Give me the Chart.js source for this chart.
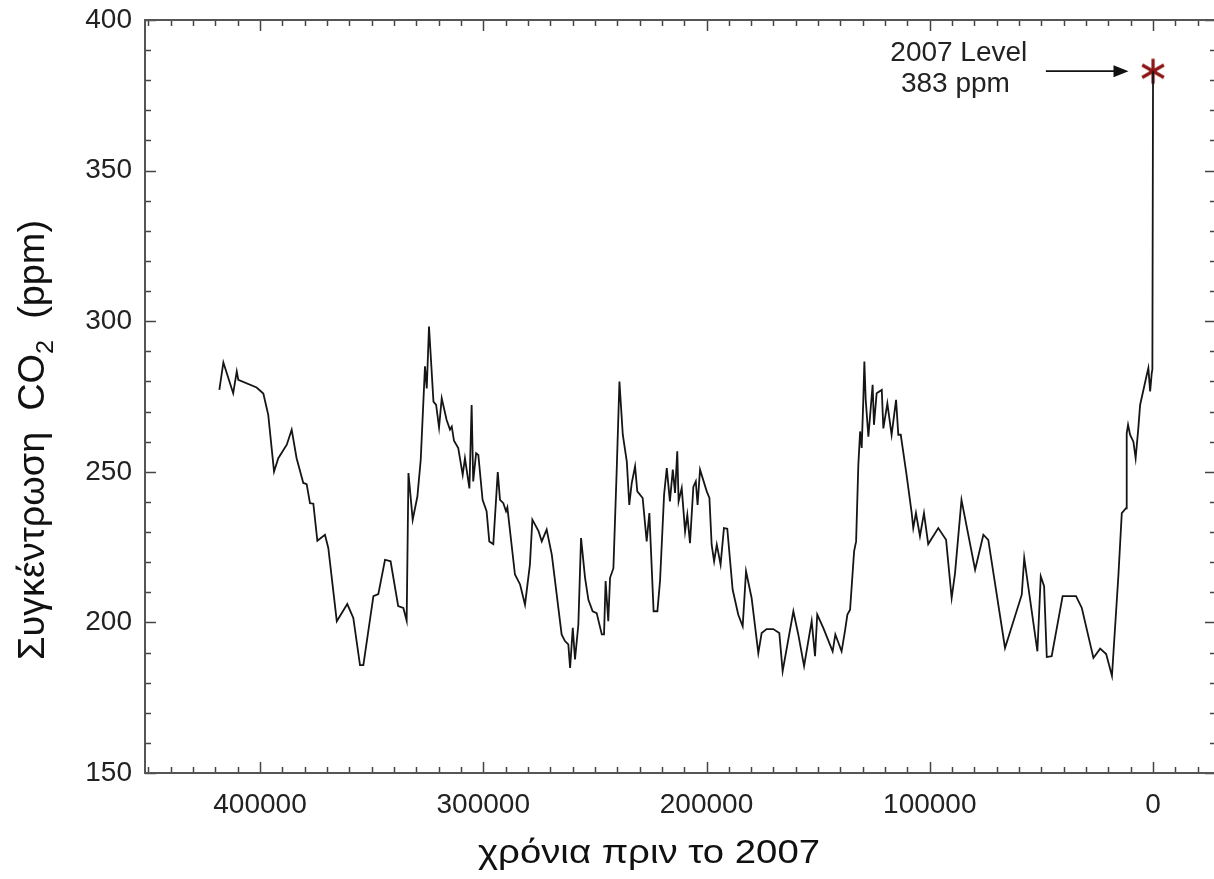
<!DOCTYPE html>
<html>
<head>
<meta charset="utf-8">
<title>CO2 Vostok</title>
<script src="https://cdn.jsdelivr.net/npm/chart.js@4.4.1/dist/chart.umd.min.js"></script>
<style>
  html, body { margin: 0; padding: 0; background: #fff; }
  canvas { display: block; }
</style>
</head>
<body>
<canvas id="grafico" width="1214" height="879"></canvas>
<script>
// years before 2007
const anios = [
  418200, 416400, 412000, 410400, 409700, 401500, 398500, 396300, 393700, 391800,
  388000, 385800, 383600, 380600, 379100, 377600, 376100, 374300, 370900, 369400,
  365600, 360900, 358200, 355200, 353700, 349200, 347000, 344000, 341500, 338100,
  335800, 334300, 333500, 331600, 329500, 328000, 326100, 325300, 324300, 323500,
  322300, 321100, 319800, 318600, 316400, 314900, 314100, 313100, 311200, 309200,
  308200, 306200, 305200, 304500, 303200, 302200, 300300, 298500, 297300, 295500,
  293500, 292500, 291000, 289800, 289200, 285800, 283500, 281300, 279100, 278000,
  275300, 273800, 271600, 269300, 264900, 263400, 261900, 261100, 259900, 258900,
  257400, 256200, 254400, 252900, 251000, 249200, 246900, 245900, 245200, 244000,
  243200, 241700, 240200, 239000, 237500, 235700, 234600, 233500, 232000, 231000,
  228600, 226800, 225600, 223700, 222000, 220800, 219000, 217800, 216400, 215100,
  214100, 213100, 212500, 211100, 209600, 208600, 207400, 205900, 204800, 204000,
  202900, 199900, 198700, 197700, 196600, 195400, 193700, 192200, 190700, 188300,
  185800, 183800, 182300, 179800, 176800, 175300, 173100, 170100, 167400, 165900,
  161100, 158900, 156300, 152900, 151400, 150400, 147700, 143500, 142300, 139500,
  138000, 136900, 135700, 133900, 133000, 132000, 131200, 130500, 129800, 129300,
  128700, 127500, 125600, 125000, 123800, 121500, 120800, 119000, 117100, 115100,
  114100, 113000, 110400, 108100, 107400, 106200, 104400, 102600, 100700, 96200,
  92700, 90200, 88700, 85800, 79700, 76000, 73800, 66300, 58800, 57700,
  51800, 50300, 48800, 47600, 45400, 40500, 34500, 31900, 26700, 23700,
  21000, 18400, 15500, 14000, 12100, 11800, 11200, 10300, 8800, 7800,
  6600, 5800, 2800, 2100, 1300, 600, 300, 0
];

// CO2 ppm
const co2 = [
  277.2, 286.3, 276.1, 283.3, 280.5, 278.0, 276.0, 268.9, 250.1, 254.5,
  259.0, 264.0, 254.5, 246.3, 245.9, 239.6, 239.4, 227.1, 229.1, 224.7,
  200.4, 206.1, 201.5, 185.8, 185.8, 208.7, 209.4, 220.8, 220.3, 205.4,
  204.8, 200.6, 249.6, 234.1, 241.8, 254.0, 285.0, 277.7, 298.2, 288.3,
  273.3, 272.2, 264.7, 274.4, 267.2, 264.0, 265.0, 260.3, 257.9, 249.0,
  254.5, 244.5, 272.2, 246.8, 256.2, 255.6, 240.7, 236.9, 226.9, 226.0,
  249.9, 240.7, 239.6, 236.9, 238.2, 215.9, 212.6, 205.9, 219.2, 234.1,
  230.4, 226.9, 230.8, 222.5, 196.0, 193.8, 192.7, 184.9, 198.2, 187.7,
  199.3, 228.0, 214.8, 207.5, 203.7, 203.1, 196.0, 196.0, 213.7, 200.4,
  214.8, 218.0, 251.2, 280.0, 262.3, 253.4, 239.0, 246.2, 251.8, 243.5,
  241.3, 226.9, 236.3, 203.7, 203.7, 214.0, 242.4, 251.2, 240.2, 250.7,
  243.0, 256.8, 240.2, 244.6, 230.2, 235.7, 226.3, 245.0, 246.8, 239.0,
  250.7, 243.5, 241.3, 225.8, 220.3, 225.8, 219.2, 231.3, 231.1, 210.9,
  202.6, 198.7, 217.0, 208.1, 189.8, 196.5, 197.8, 197.8, 196.5, 183.8,
  203.7, 196.0, 185.5, 200.4, 188.8, 202.6, 198.2, 190.4, 196.0, 190.4,
  197.1, 202.6, 204.2, 223.6, 226.9, 252.3, 263.4, 257.9, 273.3, 286.6,
  273.9, 261.7, 278.9, 265.6, 276.1, 277.2, 264.4, 272.7, 262.3, 273.9,
  262.3, 262.3, 249.0, 236.3, 231.3, 236.3, 228.6, 236.3, 226.0, 231.3,
  227.4, 208.1, 216.3, 240.7, 217.5, 229.1, 227.4, 191.5, 209.2, 221.4,
  190.4, 215.3, 212.0, 188.5, 188.8, 208.7, 208.7, 204.8, 188.2, 191.3,
  189.5, 182.2, 215.8, 236.3, 237.9, 262.8, 265.6, 262.3, 260.0, 254.5,
  264.4, 272.2, 282.2, 284.4, 276.7, 282.7, 284.0, 383.0
];

// 2007 marker
const nivel2007 = [{ x: 0, y: 383 }];
const etiquetaNivel = ['2007 Level', '383 ppm'];

// axis ranges and ticks
const ejeX = { min: -27300, max: 451500, paso: 10000, mayor: 100000 };
const ejeY = { min: 150, max: 400, paso: 10, mayor: 50 };
const ticksX = [];
for (let v = -20000; v <= 450000; v += ejeX.paso) ticksX.push(v);
const ticksY = [];
for (let v = 150; v <= 400; v += ejeY.paso) ticksY.push(v);

const tituloX = 'χρόνια πριν το 2007';
const tituloY = ['Συγκέντρωση  CO', '2', '  (ppm)'];

const FUENTE = '"Liberation Sans", Arial, sans-serif';

// asterisk marker
function hacerAsterisco() {
  const c = document.createElement('canvas');
  c.width = 30; c.height = 30;
  const g = c.getContext('2d');
  g.strokeStyle = '#8b1414';
  g.lineWidth = 3.2;
  g.lineCap = 'butt';
  [90, 30, 150].forEach(a => {
    const r = a * Math.PI / 180;
    const dx = Math.cos(r) * 12.5, dy = Math.sin(r) * 12.5;
    g.beginPath();
    g.moveTo(15 - dx, 15 - dy);
    g.lineTo(15 + dx, 15 + dy);
    g.stroke();
  });
  return c;
}

const marco = {
  id: 'marco',
  afterDatasetsDraw(chart) {
    const { ctx, chartArea: a, scales: { x, y } } = chart;
    ctx.save();
    // ticks inward on all four sides
    ctx.strokeStyle = '#444';
    ctx.lineWidth = 1.5;
    x.ticks.forEach(t => {
      const px = Math.round(x.getPixelForValue(t.value)) + 0.5;
      const len = t.value % ejeX.mayor === 0 ? 11 : 6;
      ctx.beginPath();
      ctx.moveTo(px, a.bottom); ctx.lineTo(px, a.bottom - len);
      ctx.moveTo(px, a.top); ctx.lineTo(px, a.top + len);
      ctx.stroke();
    });
    y.ticks.forEach(t => {
      const py = Math.round(y.getPixelForValue(t.value)) + 0.5;
      const len = t.value % ejeY.mayor === 0 ? 11 : 6;
      ctx.beginPath();
      ctx.moveTo(a.left, py); ctx.lineTo(a.left + len, py);
      ctx.moveTo(a.right + 2, py); ctx.lineTo(a.right + 2 - len, py);
      ctx.stroke();
    });
    // box (right side falls just outside the picture)
    ctx.strokeStyle = '#555';
    ctx.lineWidth = 2;
    ctx.beginPath();
    ctx.moveTo(a.right + 4, a.top);
    ctx.lineTo(a.left, a.top);
    ctx.lineTo(a.left, a.bottom);
    ctx.lineTo(a.right + 4, a.bottom);
    ctx.stroke();

    // annotation: arrow + text
    const ay = y.getPixelForValue(383);
    const x0 = x.getPixelForValue(48000), x1 = x.getPixelForValue(11000);
    ctx.strokeStyle = '#111';
    ctx.fillStyle = '#111';
    ctx.lineWidth = 1.8;
    ctx.beginPath();
    ctx.moveTo(x0, ay); ctx.lineTo(x1 - 12, ay);
    ctx.stroke();
    ctx.beginPath();
    ctx.moveTo(x1, ay); ctx.lineTo(x1 - 15, ay - 6); ctx.lineTo(x1 - 15, ay + 6);
    ctx.closePath(); ctx.fill();

    ctx.font = '28px ' + FUENTE;
    ctx.fillStyle = '#222';
    ctx.textAlign = 'center';
    ctx.textBaseline = 'middle';
    ctx.fillText(etiquetaNivel[0], x.getPixelForValue(87000), y.getPixelForValue(388.8));
    ctx.fillText(etiquetaNivel[1], x.getPixelForValue(88500), y.getPixelForValue(378.8));

    // x title
    ctx.font = '34px ' + FUENTE;
    ctx.fillStyle = '#111';
    const wx = ctx.measureText(tituloX).width;
    ctx.save();
    ctx.translate(649, 854);
    ctx.scale(342 / wx, 1);
    ctx.fillText(tituloX, 0, 0);
    ctx.restore();

    // y title (rotated, with subscript)
    const partes = [
      { t: tituloY[0], f: '36px ', dy: 0 },
      { t: tituloY[1], f: '24px ', dy: 9 },
      { t: tituloY[2], f: '36px ', dy: 0 }
    ];
    let total = 0;
    partes.forEach(p => { ctx.font = p.f + FUENTE; p.w = ctx.measureText(p.t).width; total += p.w; });
    ctx.save();
    ctx.translate(44, 440);
    ctx.rotate(-Math.PI / 2);
    ctx.scale(440 / total, 1);
    ctx.textAlign = 'left';
    ctx.textBaseline = 'alphabetic';
    let cx = -total / 2;
    partes.forEach(p => {
      ctx.font = p.f + FUENTE;
      ctx.fillText(p.t, cx, p.dy);
      cx += p.w;
    });
    ctx.restore();
    ctx.restore();
  }
};

const serie = anios.map((a, i) => ({ x: a, y: co2[i] }));

new Chart(document.getElementById('grafico'), {
  type: 'scatter',
  data: {
    datasets: [
      {
        data: serie,
        showLine: true,
        borderColor: '#151515',
        borderWidth: 1.8,
        pointRadius: 0,
        tension: 0,
        fill: false
      },
      {
        data: nivel2007,
        showLine: false,
        pointStyle: hacerAsterisco(),
        pointRadius: 13,
        pointHoverRadius: 13
      }
    ]
  },
  options: {
    responsive: false,
    animation: false,
    layout: { autoPadding: false, padding: { top: 20, right: 0, left: 0, bottom: 0 } },
    plugins: { legend: { display: false }, tooltip: { enabled: false } },
    scales: {
      x: {
        type: 'linear',
        reverse: true,
        min: ejeX.min,
        max: ejeX.max,
        grid: { display: false, drawTicks: false },
        border: { display: false },
        afterBuildTicks: s => { s.ticks = ticksX.map(v => ({ value: v })); },
        afterFit: s => { s.height = 106; s.paddingLeft = 0; s.paddingRight = 0; },
        ticks: {
          autoSkip: false,
          maxRotation: 0,
          padding: 15,
          color: '#222',
          font: { family: FUENTE, size: 28 },
          callback: v => (v % ejeX.mayor === 0 ? String(v) : '')
        }
      },
      y: {
        min: ejeY.min,
        max: ejeY.max,
        grid: { display: false, drawTicks: false },
        border: { display: false },
        afterBuildTicks: s => { s.ticks = ticksY.map(v => ({ value: v })); },
        afterFit: s => { s.width = 145; s.paddingTop = 0; s.paddingBottom = 0; },
        ticks: {
          autoSkip: false,
          padding: 13,
          color: '#222',
          font: { family: FUENTE, size: 28 },
          callback: v => (v % ejeY.mayor === 0 ? String(v) : '')
        }
      }
    }
  },
  plugins: [marco]
});
</script>
</body>
</html>
